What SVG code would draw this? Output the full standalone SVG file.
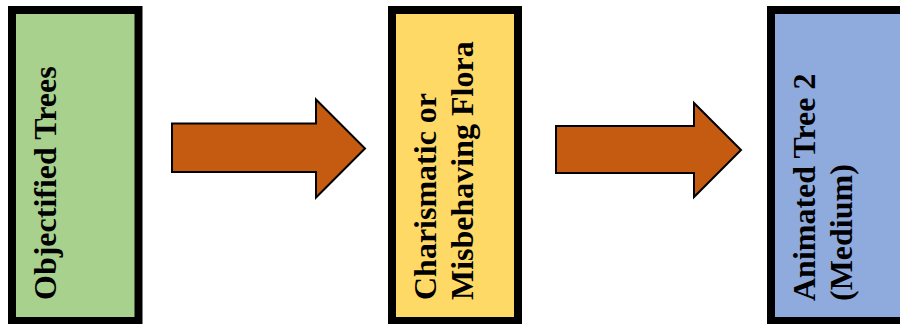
<svg xmlns="http://www.w3.org/2000/svg" width="900" height="324" viewBox="0 0 900 324">
  <style>
    .box { stroke: #000; stroke-width: 8; }
    .label { font-family: "Liberation Serif", "Times New Roman", serif; font-weight: bold; font-size: 32px; fill: #000; }
    .arrow { fill: #C55A11; stroke: #000; stroke-width: 2; stroke-linejoin: miter; }
  </style>
  <rect width="900" height="324" fill="#fff"/>

  <g id="node-objectified">
    <rect class="box" x="12" y="10" width="126.5" height="311" fill="#A9D18E"/>
    <text class="label" transform="translate(56,300) rotate(-90)">Objectified Trees</text>
  </g>

  <g id="node-charismatic">
    <rect class="box" x="392" y="10" width="126" height="311" fill="#FFD966"/>
    <text class="label" transform="translate(436,300) rotate(-90)">
      <tspan x="0" y="0">Charismatic or</tspan>
      <tspan x="0" y="37">Misbehaving Flora</tspan>
    </text>
  </g>

  <g id="node-animated">
    <rect class="box" x="771" y="10" width="140" height="311" fill="#8FAADC"/>
    <text class="label" transform="translate(815,301) rotate(-90)">
      <tspan x="0" y="0">Animated Tree 2</tspan>
      <tspan x="0" y="37">(Medium)</tspan>
    </text>
  </g>

  <g id="connectors">
    <polygon class="arrow" points="172,123.5 316,123.5 316,99.5 365,148.5 316,197.5 316,172 172,172"/>
    <polygon class="arrow" points="556,126 694,126 694,103 741,150 694,197 694,173 556,173"/>
  </g>
</svg>
